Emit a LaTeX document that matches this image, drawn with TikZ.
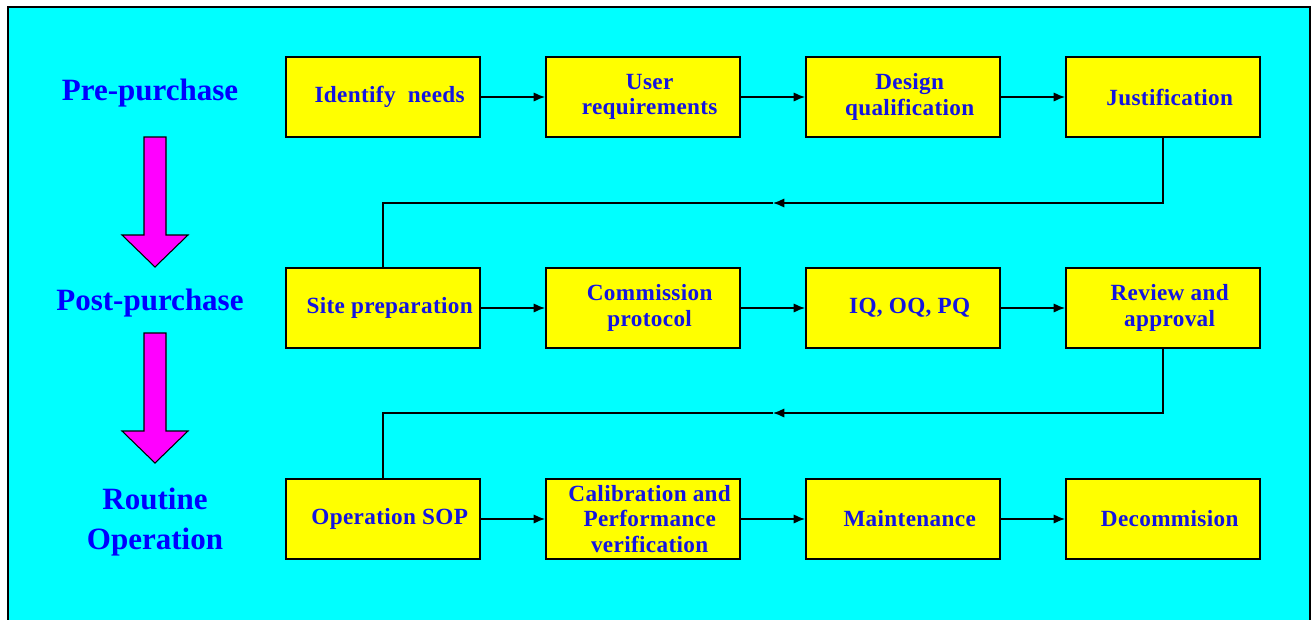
\documentclass[tikz,border=0pt]{standalone}
\usepackage{fontspec}
\setmainfont{Liberation Serif}
\newfontfamily\boxfont[LetterSpace=1.5]{Liberation Serif}
\usetikzlibrary{arrows.meta}
\definecolor{bgcyan}{RGB}{0,255,255}
\definecolor{boxyellow}{RGB}{255,255,0}
\definecolor{txtblue}{RGB}{20,20,225}
\definecolor{phaseblue}{RGB}{0,0,255}
\definecolor{arrowpink}{RGB}{255,0,255}
\begin{document}
\begin{tikzpicture}[x=0.75pt, y=-0.75pt,
    stage/.style={draw, line width=1.5pt, fill=boxyellow, minimum width=145.5pt, minimum height=60pt},
    stagetext/.style={align=center, xshift=5pt, text=txtblue,
        font=\boxfont\bfseries\fontsize{17.4}{18.9}\selectfont},
    phase/.style={align=center, text=phaseblue, font=\bfseries\fontsize{23.25}{30}\selectfont},
    flow/.style={line width=1.1pt, -{Latex[length=8.5pt,width=7pt]}}]
            \useasboundingbox (0, 0) rectangle (1311, 619);
            \clip (0, 0) rectangle (1311, 619);
            \draw[line width=1.5pt, fill=bgcyan] (8, 7) rectangle (1310, 640);

            % phases
            \node[phase] (pre) at (150, 93) {Pre-purchase};
            \node[phase] (post) at (150, 303) {Post-purchase};
            \node[phase] (routine) at (155, 522) {Routine\\Operation};
            \foreach \t in {137, 333}
                \draw[line width=0.8pt, fill=arrowpink] (144, \t) -- (166, \t) -- (166, \t+98) -- (188, \t+98)
                    -- (155, \t+130) -- (122, \t+98) -- (144, \t+98) -- cycle;

            % boxes
            \node[stage, label={[stagetext]center:Identify~~needs}] (b11) at (383, 97) {};
            \node[stage, label={[stagetext]center:User\\requirements}] (b12) at (643, 97) {};
            \node[stage, label={[stagetext]center:Design\\qualification}] (b13) at (903, 97) {};
            \node[stage, label={[stagetext]center:Justification}] (b14) at (1163, 97) {};
            \node[stage, label={[stagetext]center:Site preparation}] (b21) at (383, 308) {};
            \node[stage, label={[stagetext]center:Commission\\protocol}] (b22) at (643, 308) {};
            \node[stage, label={[stagetext]center:IQ, OQ, PQ}] (b23) at (903, 308) {};
            \node[stage, label={[stagetext]center:Review and\\approval}] (b24) at (1163, 308) {};
            \node[stage, label={[stagetext]center:Operation SOP}] (b31) at (383, 519) {};
            \node[stage, label={[stagetext]center:Calibration and\\Performance\\verification}] (b32) at (643, 519) {};
            \node[stage, label={[stagetext]center:Maintenance}] (b33) at (903, 519) {};
            \node[stage, label={[stagetext]center:Decommision}] (b34) at (1163, 519) {};

            \foreach \r in {1, 2, 3}
                \foreach \c/\n in {1/2, 2/3, 3/4}
                    \draw[flow] (b\r\c) -- (b\r\n);

            % return lines
            \coordinate (r1) at (773, 203);
            \coordinate (r2) at (773, 413);
            \draw[flow] (b14.south) |- (r1);
            \draw[line width=1.1pt] (r1) -| (b21.north);
            \draw[flow] (b24.south) |- (r2);
            \draw[line width=1.1pt] (r2) -| (b31.north);
        \end{tikzpicture}
\end{document}
